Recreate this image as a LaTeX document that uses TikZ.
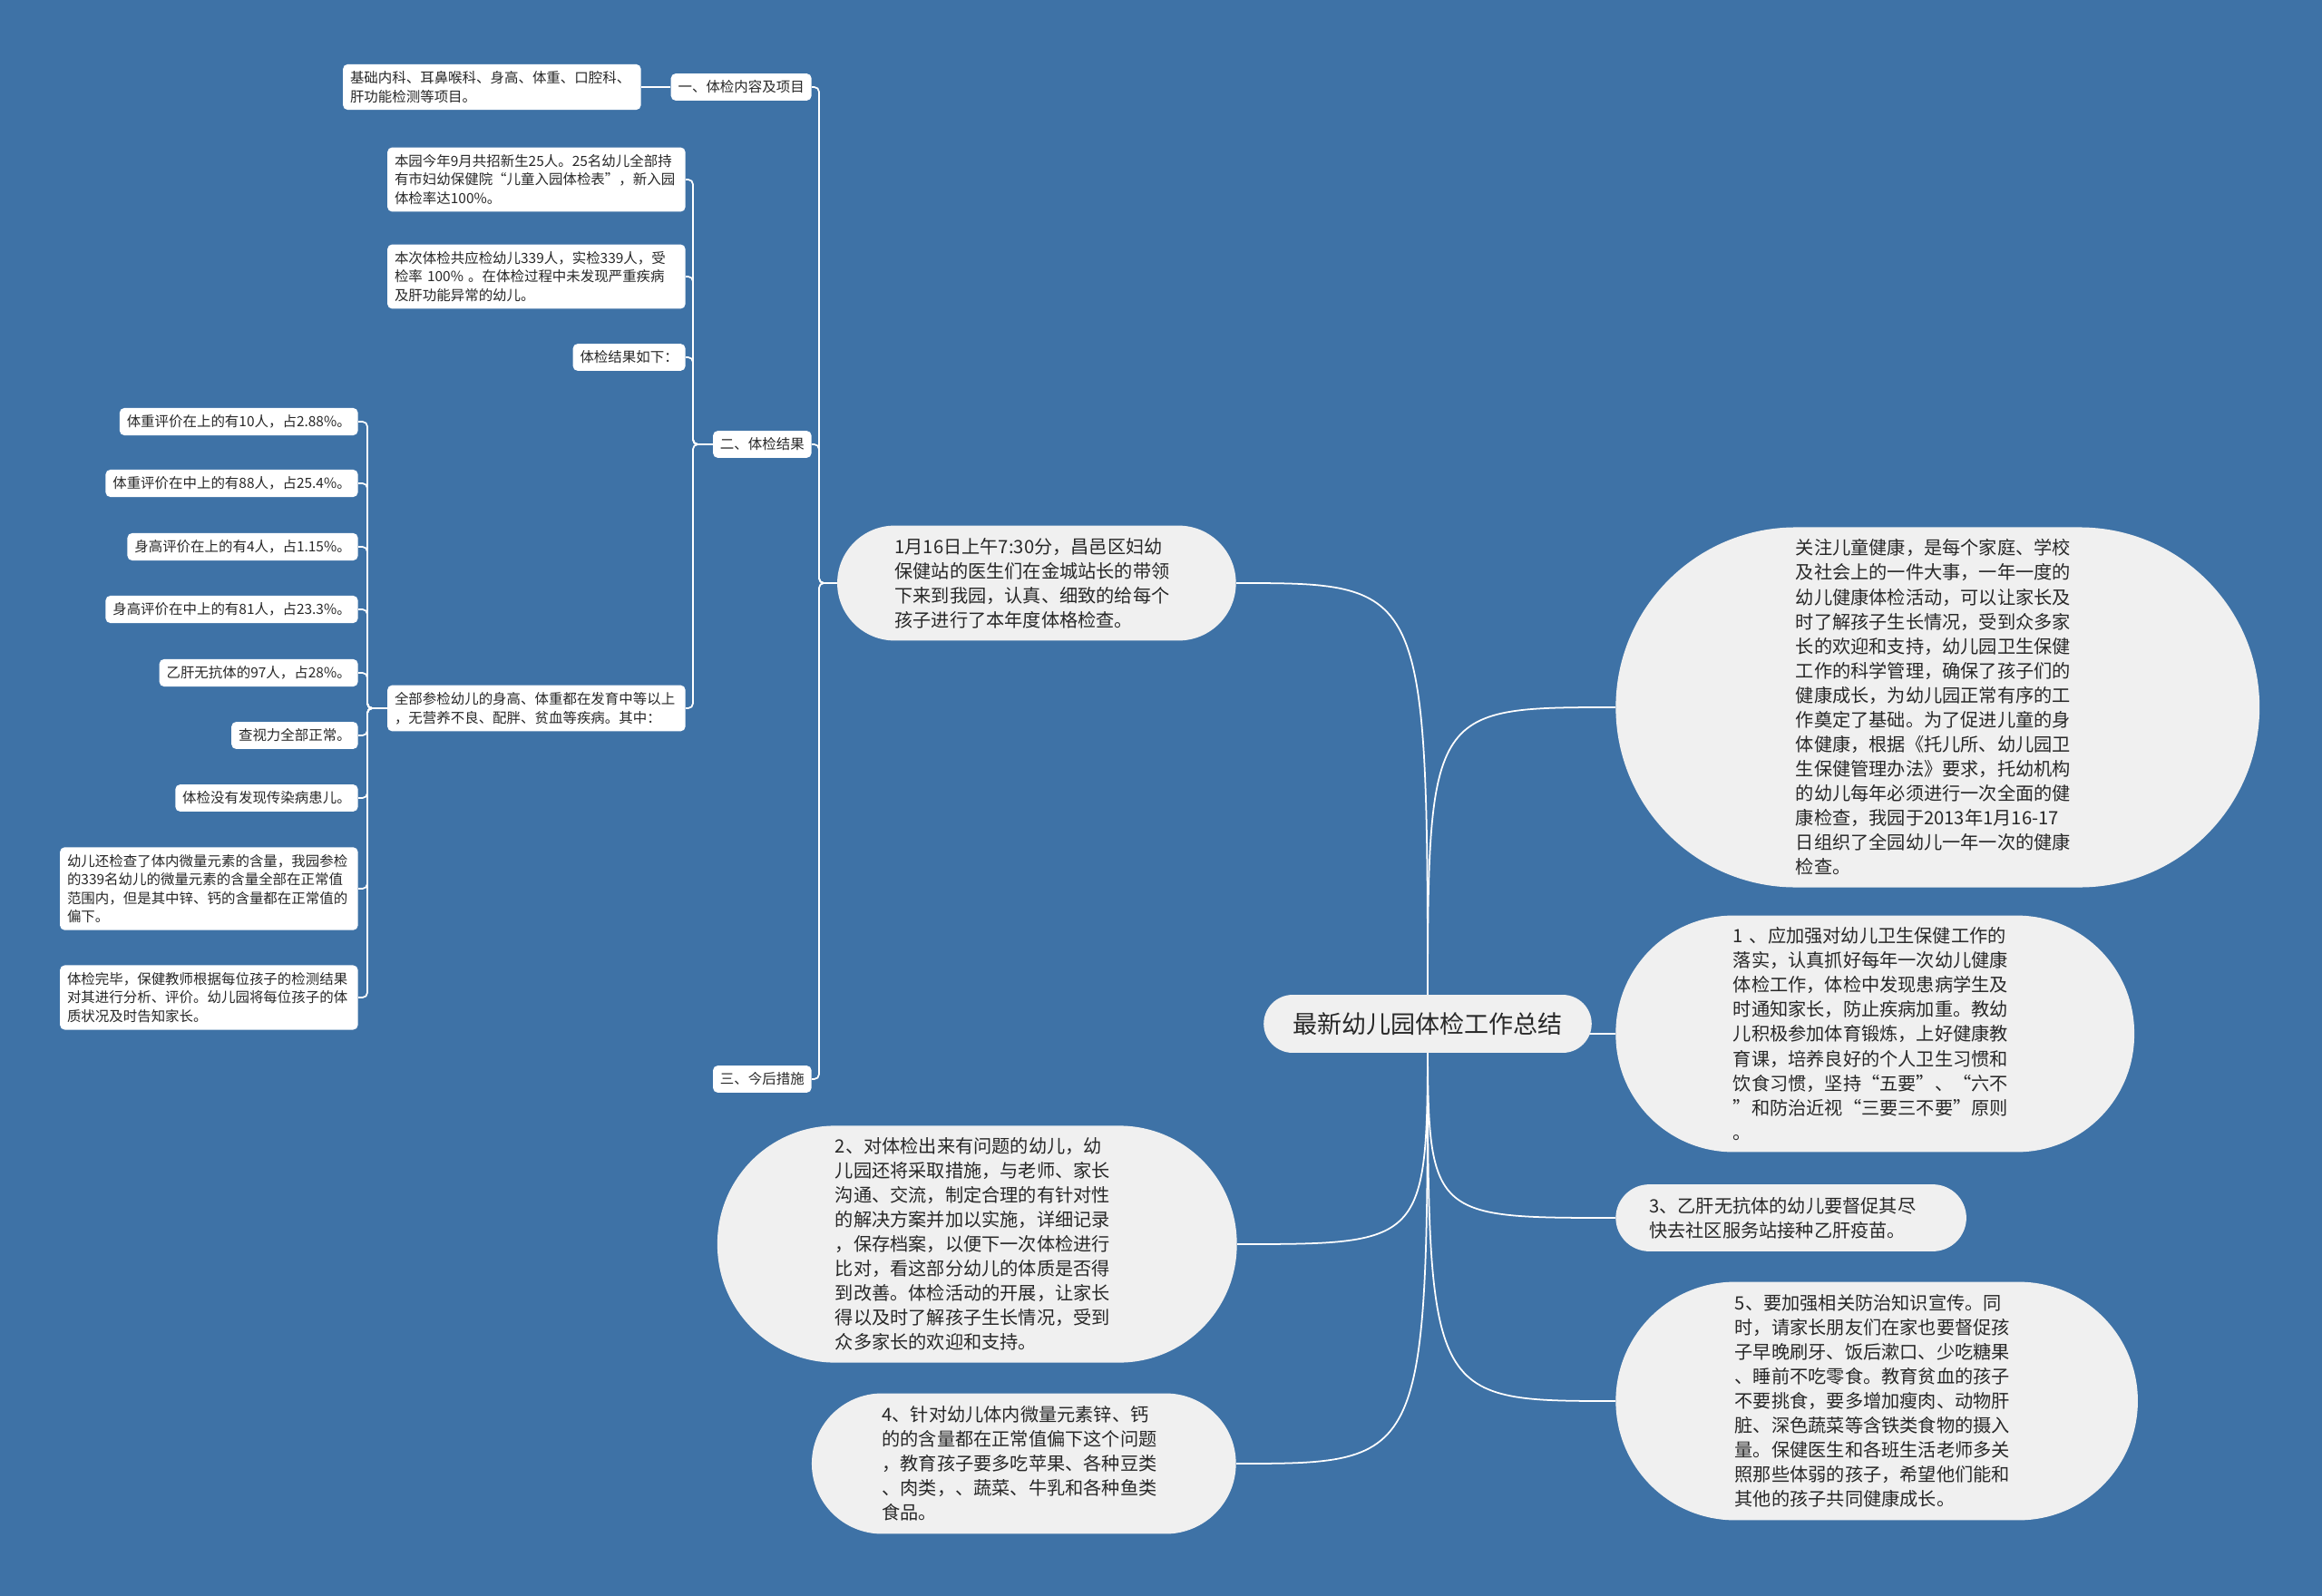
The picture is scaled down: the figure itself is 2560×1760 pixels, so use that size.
\documentclass[tikz,border=0pt]{standalone}
\usepackage{fontspec}
\usepackage{xcolor}
\usetikzlibrary{backgrounds}
\newfontfamily\cjk{Noto Sans CJK SC}
\definecolor{mapblue}{RGB}{62,114,166}
\definecolor{pillgray}{RGB}{240,240,240}
\definecolor{inktext}{RGB}{40,40,40}

\begin{document}
\begin{tikzpicture}[x=0.02cm,y=-0.02cm,
        topic/.style={rectangle,fill=pillgray,text=inktext,inner xsep=18.2pt,inner ysep=10.5pt,rounded corners=18.2pt,minimum height=36.4pt,font=\cjk\fontsize{15.4}{18}\selectfont},
        bubble/.style={rectangle,fill=pillgray,text=inktext,text width=178pt,align=left,inner xsep=#1,inner ysep=7.4pt,rounded corners=#1,minimum height=2*#1,font=\cjk\fontsize{11.5}{15.4}\selectfont},
        leaf/.style={rectangle,fill=white,rounded corners=3pt,text=inktext,align=left,anchor=east,inner xsep=4.5pt,inner ysep=4.4pt,font=\cjk\fontsize{8.8}{11.7}\selectfont},
        wideleaf/.style={leaf,text width=178pt},
        link/.style={draw=white,line width=1pt},
        branch/.style={draw=white,line width=1pt,rounded corners=3pt}]
        \node[topic] (root) at (1574,1129) {最新幼儿园体检工作总结};

        \node[bubble=113pt,anchor=west] (R1) at (1781,780) {关注儿童健康，是每个家庭、学校\\及社会上的一件大事，一年一度的\\幼儿健康体检活动，可以让家长及\\时了解孩子生长情况，受到众多家\\长的欢迎和支持，幼儿园卫生保健\\工作的科学管理，确保了孩子们的\\健康成长，为幼儿园正常有序的工\\作奠定了基础。为了促进儿童的身\\体健康，根据《托儿所、幼儿园卫\\生保健管理办法》要求，托幼机构\\的幼儿每年必须进行一次全面的健\\康检查，我园于2013年1月16-17\\日组织了全园幼儿一年一次的健康\\检查。};
        \node[bubble=73.7pt,anchor=west] (R2) at (1781,1140) {1 、应加强对幼儿卫生保健工作的\\落实，认真抓好每年一次幼儿健康\\体检工作，体检中发现患病学生及\\时通知家长，防止疾病加重。教幼\\儿积极参加体育锻炼，上好健康教\\育课，培养良好的个人卫生习惯和\\饮食习惯，坚持“五要”、“六不\\”和防治近视“三要三不要”原则\\。};
        \node[bubble=21pt,anchor=west] (R3) at (1781,1343) {3、乙肝无抗体的幼儿要督促其尽\\快去社区服务站接种乙肝疫苗。};
        \node[bubble=74.8pt,anchor=west] (R4) at (1781,1545) {5、要加强相关防治知识宣传。同\\时，请家长朋友们在家也要督促孩\\子早晚刷牙、饭后漱口、少吃糖果\\、睡前不吃零食。教育贫血的孩子\\不要挑食，要多增加瘦肉、动物肝\\脏、深色蔬菜等含铁类食物的摄入\\量。保健医生和各班生活老师多关\\照那些体弱的孩子，希望他们能和\\其他的孩子共同健康成长。};

        \node[bubble=36.1pt,anchor=east] (L1) at (1363,643) {1月16日上午7:30分，昌邑区妇幼\\保健站的医生们在金城站长的带领\\下来到我园，认真、细致的给每个\\孩子进行了本年度体格检查。};
        \node[bubble=74pt,anchor=east] (L2) at (1364,1372) {2、对体检出来有问题的幼儿，幼\\儿园还将采取措施，与老师、家长\\沟通、交流，制定合理的有针对性\\的解决方案并加以实施，详细记录\\，保存档案，以便下一次体检进行\\比对，看这部分幼儿的体质是否得\\到改善。体检活动的开展，让家长\\得以及时了解孩子生长情况，受到\\众多家长的欢迎和支持。};
        \node[bubble=44.1pt,anchor=east] (L3) at (1363,1614) {4、针对幼儿体内微量元素锌、钙\\的的含量都在正常值偏下这个问题\\，教育孩子要多吃苹果、各种豆类\\、肉类，、蔬菜、牛乳和各种鱼类\\食品。};

        \node[leaf] (one) at (895,96) {一、体检内容及项目};
        \node[leaf] (two) at (895,490) {二、体检结果};
        \node[leaf] (three) at (895,1190) {三、今后措施};

        \node[wideleaf] (a1) at (707,96) {基础内科、耳鼻喉科、身高、体重、口腔科、\\肝功能检测等项目。};

        \node[wideleaf] (c1) at (756,198) {本园今年9月共招新生25人。25名幼儿全部持\\有市妇幼保健院“儿童入园体检表”，新入园\\体检率达100\%。};
        \node[wideleaf] (c2) at (756,305) {本次体检共应检幼儿339人，实检339人，受\\检率 100\% 。在体检过程中未发现严重疾病\\及肝功能异常的幼儿。};
        \node[leaf] (c3) at (756,394) {体检结果如下：};
        \node[wideleaf] (c4) at (756,781) {全部参检幼儿的身高、体重都在发育中等以上\\，无营养不良、配胖、贫血等疾病。其中：};

        \node[leaf] (d1) at (395,465) {体重评价在上的有10人，占2.88\%。};
        \node[leaf] (d2) at (395,533) {体重评价在中上的有88人，占25.4\%。};
        \node[leaf] (d3) at (395,603) {身高评价在上的有4人，占1.15\%。};
        \node[leaf] (d4) at (395,672) {身高评价在中上的有81人，占23.3\%。};
        \node[leaf] (d5) at (395,742) {乙肝无抗体的97人，占28\%。};
        \node[leaf] (d6) at (395,811) {查视力全部正常。};
        \node[leaf] (d7) at (395,880) {体检没有发现传染病患儿。};
        \node[wideleaf] (d8) at (395,980) {幼儿还检查了体内微量元素的含量，我园参检\\的339名幼儿的微量元素的含量全部在正常值\\范围内，但是其中锌、钙的含量都在正常值的\\偏下。};
        \node[wideleaf] (d9) at (395,1100) {体检完毕，保健教师根据每位孩子的检测结果\\对其进行分析、评价。幼儿园将每位孩子的体\\质状况及时告知家长。};

        \coordinate (t1) at (903,643);
        \coordinate (t2) at (764,490);
        \coordinate (t3) at (405,781);

        \begin{pgfonlayer}{background}
                \fill[mapblue] (0,0) rectangle (2560,1760);
                \foreach \n in {R1,R2,R3,R4}
                        \draw[link] (root.center) .. controls (root.center |- \n.west) .. (\n.west);
                \foreach \n in {L1,L2,L3}
                        \draw[link] (root.center) .. controls (root.center |- \n.east) .. (\n.east);
                \foreach \n in {one,two,three}
                        \draw[branch] (L1.west) -- (t1) |- (\n.east);
                \draw[link] (one.west) -- (a1.east);
                \foreach \n in {c1,c2,c3,c4}
                        \draw[branch] (two.west) -- (t2) |- (\n.east);
                \foreach \n in {d1,d2,d3,d4,d5,d6,d7,d8,d9}
                        \draw[branch] (c4.west) -- (t3) |- (\n.east);
        \end{pgfonlayer}
\end{tikzpicture}
\end{document}
